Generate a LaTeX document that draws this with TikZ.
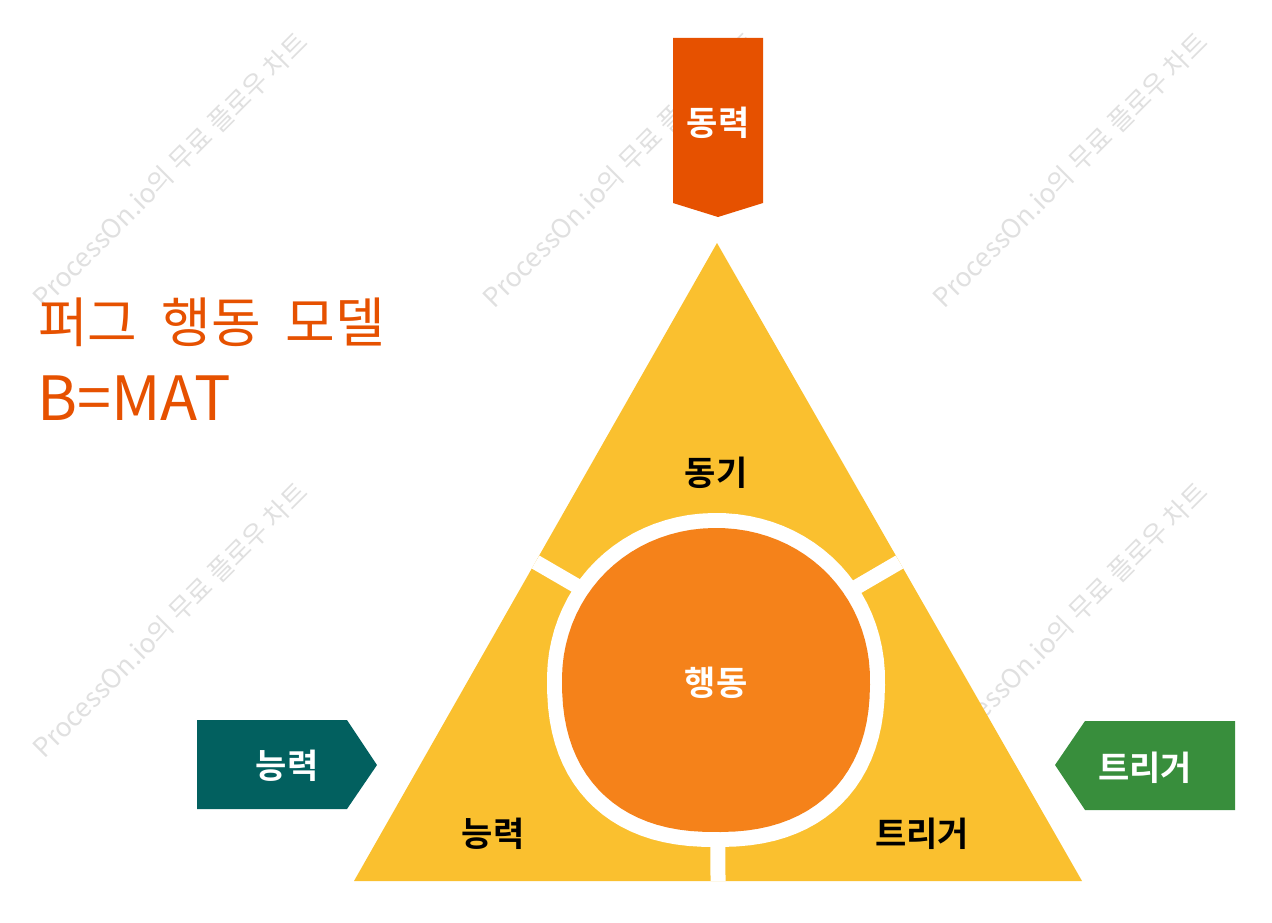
\documentclass[tikz,border=0pt]{standalone}
\usepackage{fontspec}
\usetikzlibrary{calc}
\setmainfont{Noto Sans CJK KR}
\newfontfamily\krb{Noto Sans CJK KR Bold}
\definecolor{triyellow}{HTML}{FAC02F}
\definecolor{coreorange}{HTML}{F5821A}
\definecolor{deeporange}{HTML}{E65100}
\definecolor{tealc}{HTML}{02605F}
\definecolor{greenc}{HTML}{388E3C}
\definecolor{wmgray}{HTML}{E0E0E0}
\tikzset{
  lbl/.style={font=\krb\fontsize{34}{40}\selectfont, inner sep=0pt},
  wm/.style={font=\fontsize{26.5}{30}\selectfont, text=wmgray, rotate=45, inner sep=0pt},
  gap/.style={draw=white, line width=15pt}
}
\begin{document}
\begin{tikzpicture}[x=1pt,y=-1pt,
  declare function={ex(\t)=ifthenelse(sin(\t)>0,0.86,0.98);}]
\useasboundingbox (0,0) rectangle (1272,923);
% watermarks
\foreach \cx/\cy [count=\i] in {170/170,620/170,1070/170,170/620,1070/620}
  \node[wm] (wm\i) at (\cx,\cy) {ProcessOn.io의 무료 플로우 차트};
% triangle
\coordinate (A) at (717,243);
\coordinate (L) at (354,881);
\coordinate (R) at (1082,881);
\coordinate (C) at (717.7,668);
\fill[triyellow] (A) -- (L) -- (R) -- cycle;
\draw[gap] ($(A)!0.5!(L)$) -- (C);
\draw[gap] ($(A)!0.5!(R)$) -- (C);
\draw[gap] ($(L)!0.5!(R)$) -- (C);
% white ring + core
\fill[white] plot[domain=1:361, samples=91] ({716+169*sign(cos(\x))*pow(abs(cos(\x)),ex(\x))},{680+167*sign(sin(\x))*pow(abs(sin(\x)),ex(\x))}) -- cycle;
\fill[coreorange] plot[domain=1:361, samples=91] ({716+154*sign(cos(\x))*pow(abs(cos(\x)),ex(\x))},{680+152*sign(sin(\x))*pow(abs(sin(\x)),ex(\x))}) -- cycle;
% labels in triangle
\node[lbl] (motive) at (716,473) {동기};
\node[lbl] (ability) at (493,834) {능력};
\node[lbl] (trigger) at (922,834) {트리거};
\node[lbl, text=white] (behavior) at (716,683) {행동};
% top banner
\fill[deeporange] (673,38) -- (763,38) -- (763,203) -- (718,217) -- (673,203) -- cycle;
\node[lbl, text=white] (power) at (718,123) {동력};
% left arrow
\fill[tealc] (197,720) -- (347,720) -- (377,765) -- (347,809) -- (197,809) -- cycle;
\node[lbl, text=white] (abilitybox) at (287,766) {능력};
% right arrow
\fill[greenc] (1085,721) -- (1235,721) -- (1235,810) -- (1085,810) -- (1055,765) -- cycle;
\node[lbl, text=white] (triggerbox) at (1145,768) {트리거};
% title
\node[anchor=west, inner sep=0pt, text=deeporange, font=\fontsize{54}{60}\selectfont] (title) at (38,322) {퍼그\hskip0.45em 행동\hskip0.45em 모델};
\node[anchor=west, inner sep=0pt, text=deeporange, font=\fontsize{61}{66}\selectfont] (formula) at (37,398) {B=MAT};
\end{tikzpicture}
\end{document}
